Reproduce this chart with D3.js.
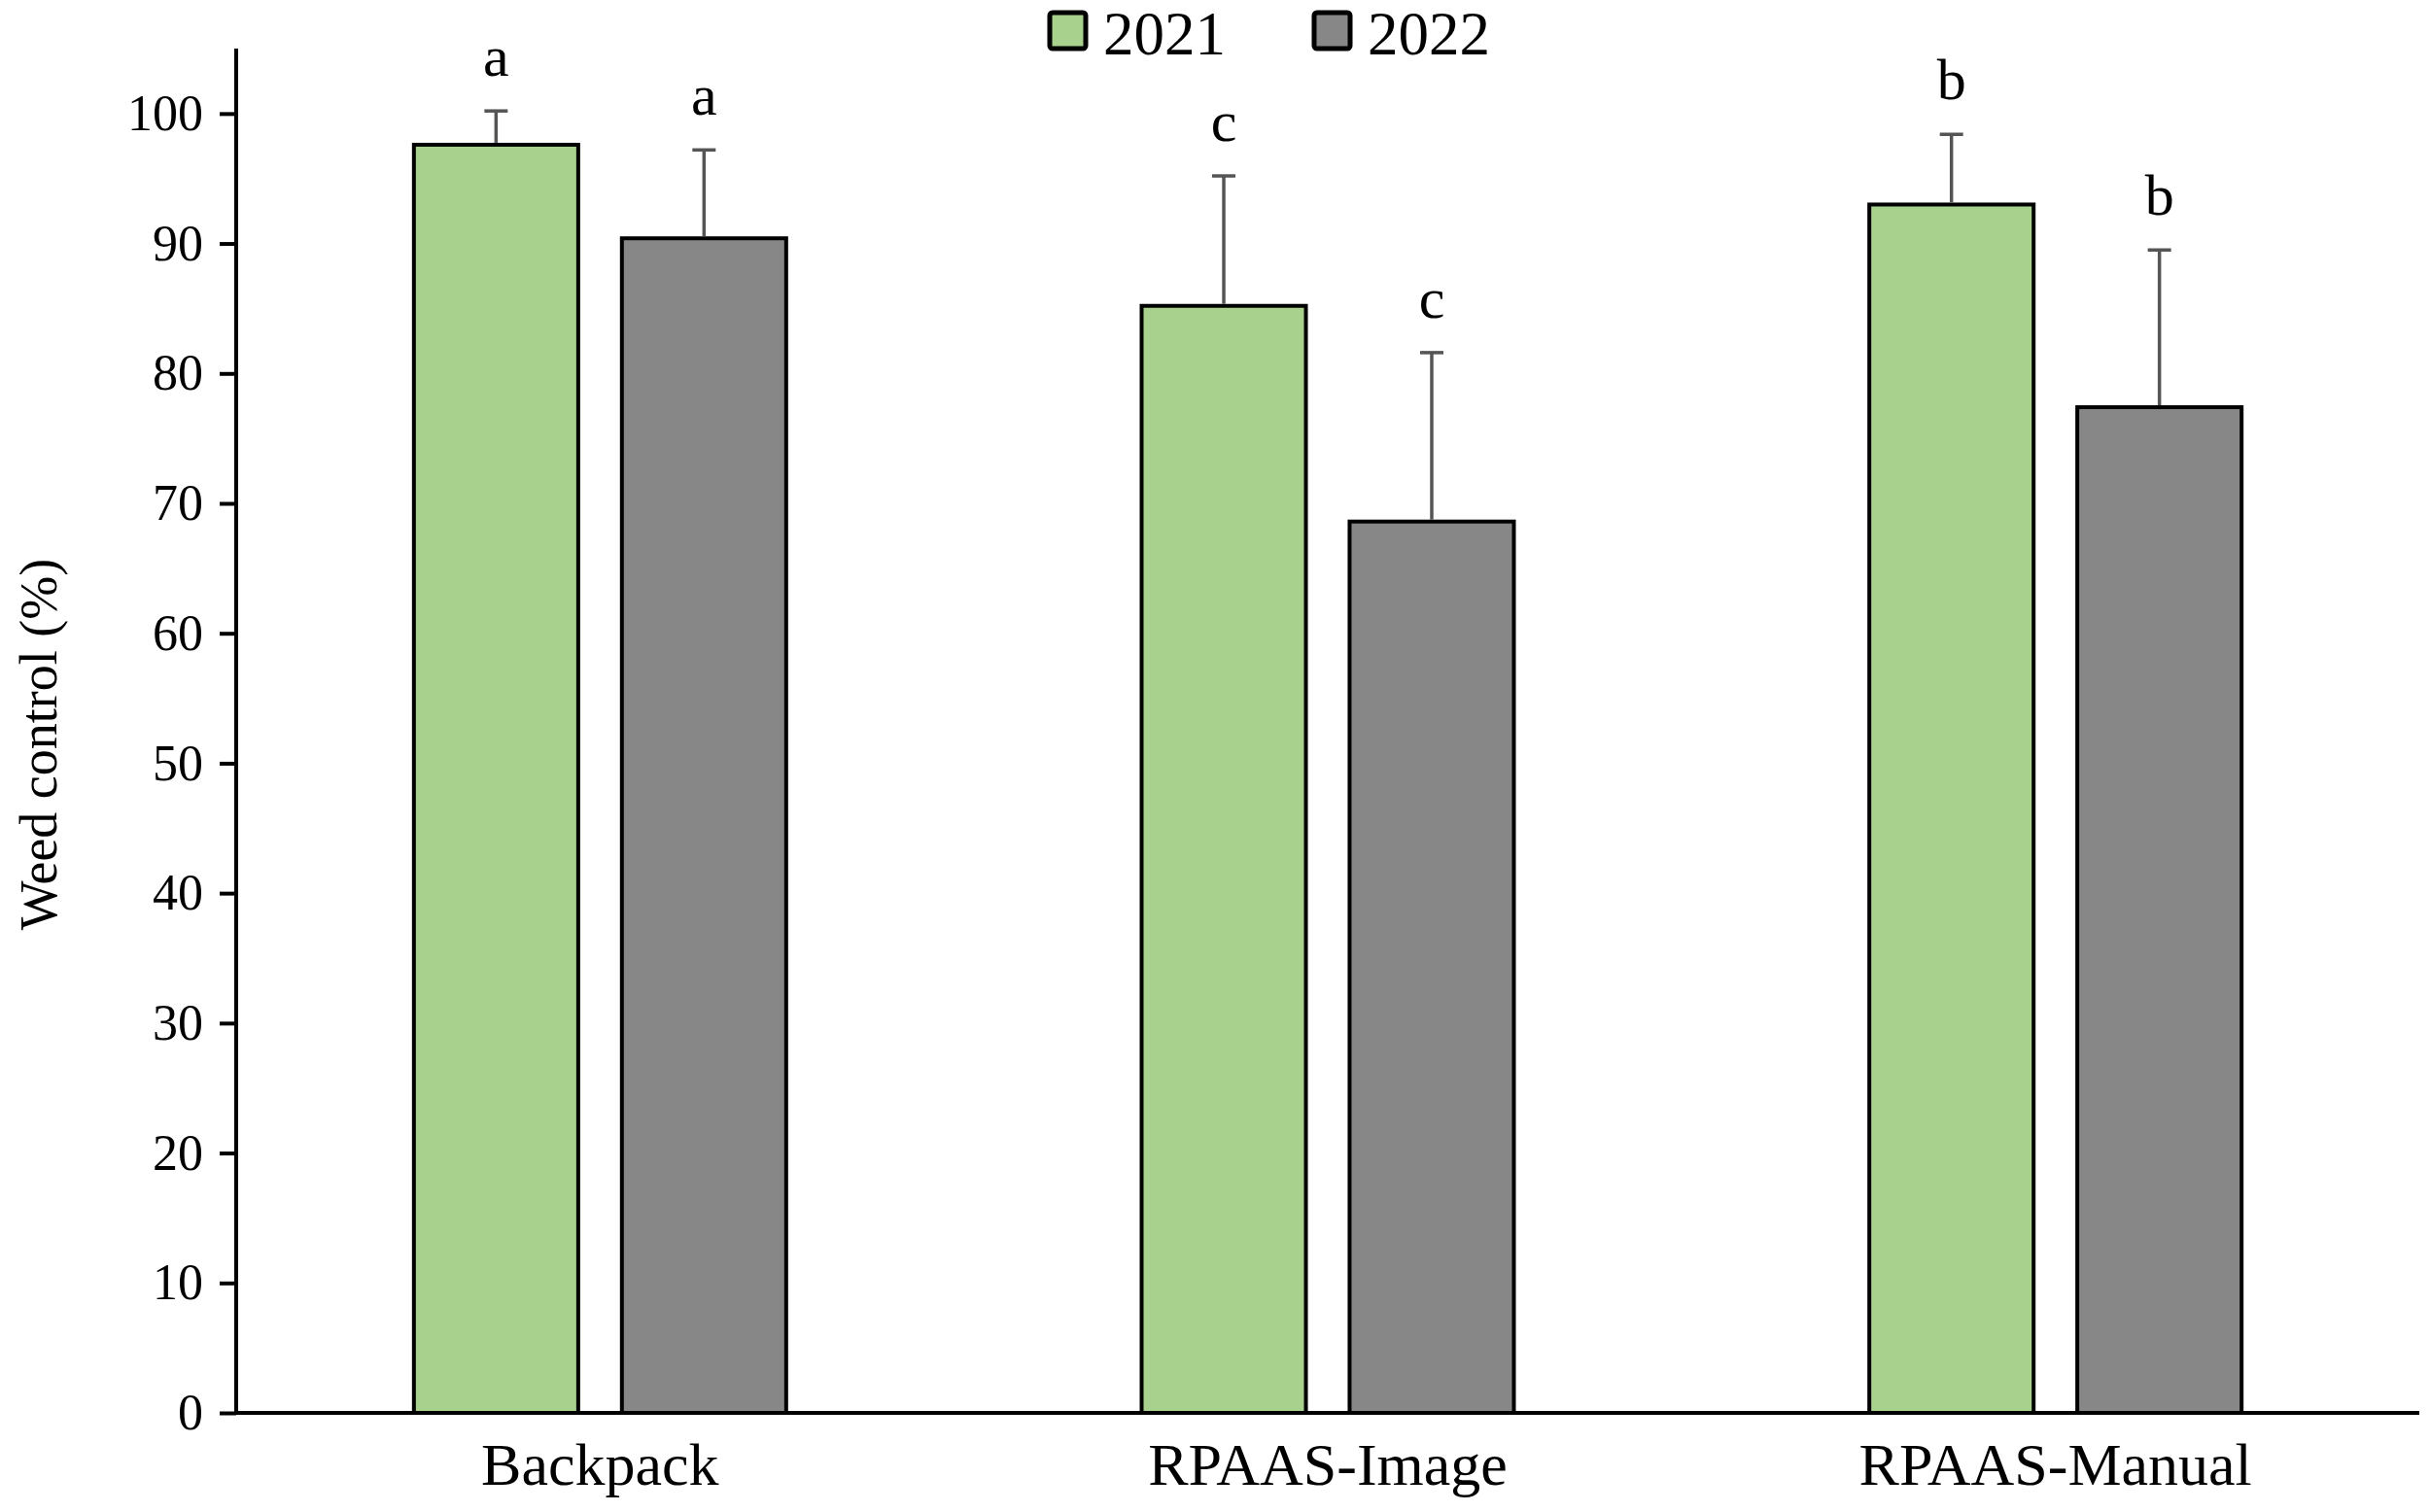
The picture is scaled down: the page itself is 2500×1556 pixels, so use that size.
<!DOCTYPE html>
<html>
<head>
<meta charset="utf-8">
<script src="https://cdn.jsdelivr.net/npm/d3@7"></script>
<style>
  body { margin: 0; background: #fff; }
  text { font-family: "Liberation Serif", "Times New Roman", serif; fill: #000; }
</style>
</head>
<body>
<div id="chart"></div>
<script>
// data
const categories = ["Backpack", "RPAAS-Image", "RPAAS-Manual"];
const years = ["2021", "2022"];
const values2021 = [97.6, 85.2, 93.0];
const values2022 = [90.4, 68.6, 77.4];
const errors2021 = [2.6, 10.0, 5.4];
const errors2022 = [6.8, 13.0, 12.1];
const letters2021 = ["a", "c", "b"];
const letters2022 = ["a", "c", "b"];
const yTicks = [0, 10, 20, 30, 40, 50, 60, 70, 80, 90, 100];

const colors = { "2021": "#a9d18e", "2022": "#878787" };

// layout
const W = 2500, H = 1556;
const margin = { top: 50, right: 11, bottom: 102, left: 243 };
const width = W - margin.left - margin.right;
const height = H - margin.top - margin.bottom;

const svg = d3.select("#chart").append("svg")
    .attr("width", W)
    .attr("height", H);

const g = svg.append("g")
    .attr("transform", `translate(${margin.left},${margin.top})`);

// build rows for the bars
const rows = [];
categories.forEach((c, i) => {
    rows.push({ cat: c, year: "2021", value: values2021[i], err: errors2021[i], letter: letters2021[i] });
    rows.push({ cat: c, year: "2022", value: values2022[i], err: errors2022[i], letter: letters2022[i] });
});

// scales
const x0 = d3.scaleBand().domain(categories).range([0, width]).padding(0);
const groupW = 383;
const x1 = d3.scaleBand().domain(years)
    .range([(x0.bandwidth() - groupW) / 2, (x0.bandwidth() + groupW) / 2])
    .paddingInner(0.21);
const y = d3.scaleLinear().domain([0, 105]).range([height, 0]);

// bars
g.selectAll("rect.bar")
    .data(rows)
    .enter()
    .append("rect")
    .attr("class", "bar")
    .attr("x", d => x0(d.cat) + x1(d.year))
    .attr("y", d => y(d.value))
    .attr("width", x1.bandwidth())
    .attr("height", d => y(0) - y(d.value))
    .attr("fill", d => colors[d.year])
    .attr("stroke", "#000")
    .attr("stroke-width", 4);

// error bars (upper only)
const cx = d => x0(d.cat) + x1(d.year) + x1.bandwidth() / 2;
g.selectAll("line.err")
    .data(rows)
    .enter()
    .append("line")
    .attr("class", "err")
    .attr("x1", cx).attr("x2", cx)
    .attr("y1", d => y(d.value) - 2)
    .attr("y2", d => y(d.value + d.err))
    .attr("stroke", "#555")
    .attr("stroke-width", 3.5);

g.selectAll("line.cap")
    .data(rows)
    .enter()
    .append("line")
    .attr("class", "cap")
    .attr("x1", d => cx(d) - 12).attr("x2", d => cx(d) + 12)
    .attr("y1", d => y(d.value + d.err))
    .attr("y2", d => y(d.value + d.err))
    .attr("stroke", "#555")
    .attr("stroke-width", 3.5);

// significance letters
g.selectAll("text.sig")
    .data(rows)
    .enter()
    .append("text")
    .attr("class", "sig")
    .attr("x", cx)
    .attr("y", d => y(d.value + d.err) - 36)
    .attr("text-anchor", "middle")
    .attr("font-size", "60px")
    .text(d => d.letter);

// y axis
const yAxis = g.append("g")
    .call(d3.axisLeft(y).tickValues(yTicks).tickSize(17).tickPadding(17));
yAxis.select(".domain").attr("stroke", "#000").attr("stroke-width", 4)
    .attr("d", `M0,${height}V0`);
yAxis.selectAll(".tick line").attr("stroke", "#000").attr("stroke-width", 4);
yAxis.selectAll(".tick text")
    .attr("font-size", "52px")
    .attr("font-family", "Liberation Serif, serif")
    .attr("fill", "#000");

// x axis
const xAxis = g.append("g")
    .attr("transform", `translate(0,${height})`)
    .call(d3.axisBottom(x0).tickSize(0).tickPadding(36));
xAxis.select(".domain").attr("stroke", "#000").attr("stroke-width", 4)
    .attr("d", `M0,0H${width}`);
xAxis.selectAll(".tick text")
    .attr("font-size", "62px")
    .attr("font-family", "Liberation Serif, serif")
    .attr("fill", "#000")
    .attr("dy", "0.62em");

// y label
svg.append("text")
    .attr("transform", "rotate(-90)")
    .attr("x", -766)
    .attr("y", 58)
    .attr("text-anchor", "middle")
    .attr("font-size", "54px")
    .text("Weed control (%)");

// legend
const legendX = [1080, 1352];
const legend = svg.selectAll("g.legend")
    .data(years)
    .enter()
    .append("g")
    .attr("class", "legend")
    .attr("transform", (d, i) => `translate(${legendX[i]},13)`);

legend.append("rect")
    .attr("width", 37)
    .attr("height", 37)
    .attr("rx", 3)
    .attr("fill", d => colors[d])
    .attr("stroke", "#000")
    .attr("stroke-width", 5);

legend.append("text")
    .attr("x", 55)
    .attr("y", 43)
    .attr("font-size", "63px")
    .text(d => d);
</script>
</body>
</html>
